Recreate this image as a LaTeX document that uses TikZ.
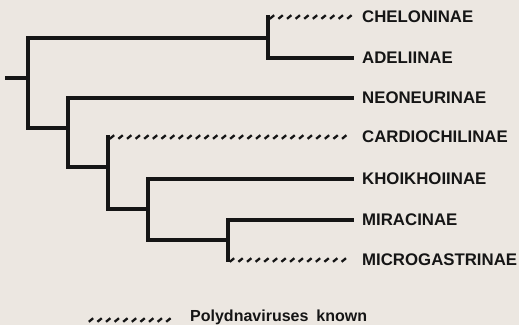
\documentclass[tikz,border=0pt]{standalone}
\usepackage{fontspec}
\setmainfont{Liberation Sans}
\usetikzlibrary{decorations.markings}
\definecolor{paper}{HTML}{ECE7E1}
\definecolor{ink}{HTML}{151515}
\begin{document}
\begin{tikzpicture}[x=1pt,y=-1pt,
  branch/.style={draw=ink,line width=4pt,line cap=rect,line join=miter},
  hatched/.style={postaction={decorate},decoration={markings,
     mark=between positions 4pt and 1 step 8.6pt with
     {\draw[ink,line width=2.3pt] (-2.2pt,-1.8pt) -- (2.2pt,1.8pt);}}},
  taxon/.style={anchor=west,inner sep=0pt,text=ink,font=\fontsize{16.8}{18}\selectfont\bfseries}]
\fill[paper] (0,0) rectangle (519,325);
\useasboundingbox (0,0) rectangle (519,325);
% taxa
\node[taxon] (chel) at (362,17) {CHELONINAE};
\node[taxon] (adel) at (362,58) {ADELIINAE};
\node[taxon] (neon) at (362,98) {NEONEURINAE};
\node[taxon] (card) at (362,137) {CARDIOCHILINAE};
\node[taxon] (khoi) at (362,179) {KHOIKHOIINAE};
\node[taxon] (mira) at (362,220) {MIRACINAE};
\node[taxon] (micr) at (362,260) {MICROGASTRINAE};
% internal nodes
\coordinate (r0) at (7,78);
\coordinate (n2) at (28,78);
\coordinate (n1) at (268,38);
\coordinate (n3) at (68,128);
\coordinate (n4) at (108,167);
\coordinate (n5) at (148,209);
\coordinate (n6) at (228,240);
\coordinate (chelc) at (n1 |- chel);
\coordinate (cardc) at (n4 |- card);
\coordinate (micrc) at (n6 |- micr);
% branches
\draw[branch] (r0) -- (n2);
\draw[branch] (n2) |- (n1);
\draw[branch] (n2) |- (n3);
\draw[branch] (n1) -- (chelc);
\draw[branch,shorten >=10pt] (n1) |- (adel.west);
\draw[branch,shorten >=10pt] (n3) |- (neon.west);
\draw[branch] (n3) |- (n4);
\draw[branch] (n4) -- (cardc);
\draw[branch] (n4) |- (n5);
\draw[branch,shorten >=10pt] (n5) |- (khoi.west);
\draw[branch] (n5) |- (n6);
\draw[branch,shorten >=10pt] (n6) |- (mira.west);
\draw[branch] (n6) -- (micrc);
\path[hatched] (chelc) -- ([xshift=-12pt]chel.west);
\path[hatched] (cardc) -- ([xshift=-12pt]card.west);
\path[hatched] (micrc) -- ([xshift=-12pt]micr.west);
% legend
\node[taxon,anchor=base west,font=\fontsize{16}{18}\selectfont\bfseries] (legt) at (190,321.2) {Polydnaviruses\hspace{0.5em}known};
\coordinate (leg0) at (87,320);
\path[hatched] (leg0) -- ([xshift=-16pt]legt.west |- leg0);
\end{tikzpicture}
\end{document}
